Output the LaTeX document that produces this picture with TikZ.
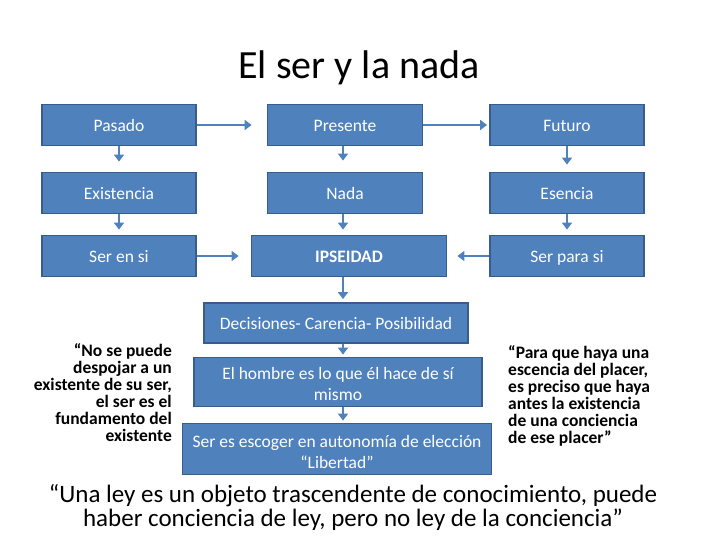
\documentclass[tikz,border=0pt]{standalone}
\usepackage{fontspec}
\setmainfont{Carlito}
\usetikzlibrary{arrows.meta}
\definecolor{boxblue}{HTML}{4F81BD}
\definecolor{boxline}{HTML}{385D8A}

\begin{document}
\begin{tikzpicture}[x=1pt, y=-1pt, >={Triangle[width=10pt,length=7pt]},
  caja/.style={draw=boxline, line width=1.8pt, fill=boxblue, text=white, inner sep=0pt,
    minimum height=41pt, align=center, font=\fontsize{17.5}{21}\selectfont},
  cajauna/.style={caja, text height=14pt, text depth=1.8pt},
  cajados/.style={caja, text height=40pt, text depth=2.6pt},
  flecha/.style={->, draw=boxblue, line width=2.6pt},
  cita/.style={inner sep=0pt, font=\fontsize{17.5}{17}\selectfont\bfseries}]

\useasboundingbox (0,0) rectangle (720,540);

% Title
\node (titulo) at (359,68) {\fontsize{40}{44}\selectfont El ser y la nada};

% Three columns of boxes
\node (pasado)     at (119,125) [cajauna, minimum width=154pt] {Pasado};
\node (presente)   at (345,125) [cajauna, minimum width=155pt] {Presente};
\node (futuro)     at (567,125) [cajauna, minimum width=154pt] {Futuro};
\node (existencia) at (119,193) [cajauna, minimum width=154pt] {Existencia};
\node (nada)       at (345,193) [cajauna, minimum width=155pt] {Nada};
\node (esencia)    at (567,193) [cajauna, minimum width=154pt] {Esencia};
\node (serensi)    at (119,256) [cajauna, minimum width=154pt] {Ser en si};
\node (ipseidad)   at (349,256) [cajauna, minimum width=195pt] {\bfseries IPSEIDAD};
\node (serparasi)  at (567,256) [cajauna, minimum width=154pt] {Ser para si};

% Central chain
\node (decisiones) at (336,323) [cajauna, minimum width=264pt, minimum height=40pt] {Decisiones- Carencia- Posibilidad};
\node (hombre)     at (338,382) [cajados, minimum width=288pt, minimum height=49pt] {El hombre es lo que él hace de sí\\mismo};
\node (escoger)    at (337,449) [cajados, text height=41pt, text depth=1.6pt, minimum width=309pt, minimum height=51pt] {Ser es escoger en autonomía de elección\\“Libertad”};

% Side quotes
\node (citaizq) at (172,393) [cita, anchor=east, align=right]
  {“No se puede\\despojar a un\\existente de su ser,\\el ser es el\\fundamento del\\existente};
\node (citader) at (508,396) [cita, anchor=west, align=left]
  {“Para que haya una\\escencia del placer,\\es preciso que haya\\antes la existencia\\de una conciencia\\de ese placer”};

% Bottom quote
\node (citafinal) at (353,507) [inner sep=0pt, align=center, font=\fontsize{25}{24}\selectfont]
  {“Una ley es un objeto trascendente de conocimiento, puede\\haber conciencia de ley, pero no ley de la conciencia”};

% Axis of the central arrows
\coordinate (eje) at (343,0);

% Horizontal arrows
\draw[flecha, shorten >=15pt] (pasado) -- (presente);
\draw[flecha, shorten >=2pt] (presente) -- (futuro);
\draw[flecha, shorten >=12pt] (serensi) -- (ipseidad);
\draw[flecha, shorten >=10pt] (serparasi) -- (ipseidad);

% Vertical arrows
\draw[flecha, shorten >=10pt] (pasado) -- (existencia);
\draw[flecha, shorten >=5pt] (existencia) -- (serensi);
\draw[flecha, shorten >=7pt] (futuro) -- (esencia);
\draw[flecha, shorten >=5pt] (esencia) -- (serparasi);
\draw[flecha, shorten >=11pt] (presente.south -| eje) -- (nada.north -| eje);
\draw[flecha, shorten >=5pt] (nada.south -| eje) -- (ipseidad.north -| eje);
\draw[flecha, shorten >=3pt] (ipseidad.south -| eje) -- (decisiones.north -| eje);
\draw[flecha, shorten >=2pt] (decisiones.south -| eje) -- (hombre.north -| eje);
\draw[flecha, shorten >=2pt] (hombre.south -| eje) -- (escoger.north -| eje);

\end{tikzpicture}
\end{document}
